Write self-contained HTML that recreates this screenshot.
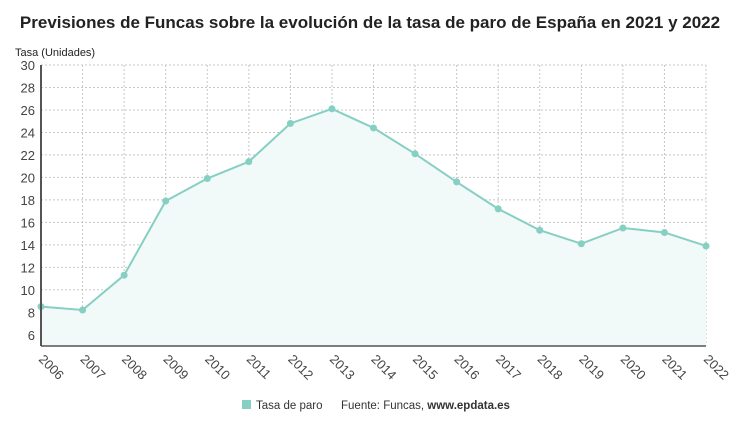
<!DOCTYPE html>
<html><head><meta charset="utf-8"><style>
body{margin:0;background:#fff;width:741px;height:421px;overflow:hidden;font-family:"Liberation Sans",sans-serif}
</style></head><body>
<svg width="741" height="421" xmlns="http://www.w3.org/2000/svg">
<text x="370" y="28" text-anchor="middle" font-size="17" font-weight="bold" fill="#222">Previsiones de Funcas sobre la evolución de la tasa de paro de España en 2021 y 2022</text>
<text x="15" y="56" font-size="11" fill="#222">Tasa (Unidades)</text>
<g id="grid"></g><g id="plot"></g><g id="axes"></g>
<g>
<rect x="242" y="400" width="9" height="9" fill="#86cfc3"/>
<text x="256" y="409" font-size="11.5" fill="#333">Tasa de paro</text>
<text x="341" y="409" font-size="11.5" fill="#333">Fuente: Funcas, <tspan font-weight="bold">www.epdata.es</tspan></text>
</g>
</svg>
<script>
const years=[2006,2007,2008,2009,2010,2011,2012,2013,2014,2015,2016,2017,2018,2019,2020,2021,2022];
const rates=[8.5,8.2,11.3,17.9,19.9,21.4,24.8,26.1,24.4,22.1,19.6,17.2,15.3,14.1,15.5,15.1,13.9];
const yTicks=[6,8,10,12,14,16,18,20,22,24,26,28,30];
const NS="http://www.w3.org/2000/svg";
const x0=41,x1=706,yMin=5,yMax=30,yb=346,yt=65;
const xs=i=>x0+(x1-x0)*i/(years.length-1);
const ys=v=>yb-(v-yMin)*(yb-yt)/(yMax-yMin);
function mk(tag,attrs,parent){const e=document.createElementNS(NS,tag);for(const k in attrs)e.setAttribute(k,attrs[k]);document.getElementById(parent).appendChild(e);return e;}
yTicks.forEach(t=>{
 const l=mk('line',{x1:x0,x2:x1,y1:ys(t),y2:ys(t),stroke:'#c8c8c8','stroke-dasharray':'2,2'},'grid');
 
 
 const tx=mk('text',{x:x0-6,y:ys(t)+5,'text-anchor':'end','font-size':'13',fill:'#444'},'axes');
 tx.textContent=t;
 
 
});
years.forEach((yr,i)=>{
 const l=mk('line',{x1:xs(i),x2:xs(i),y1:yt,y2:yb,stroke:'#c8c8c8','stroke-dasharray':'2,2'},'grid');
 
 
 const tx=mk('text',{x:xs(i)-3,y:yb+14,'font-size':'13',fill:'#444',transform:`rotate(45 ${xs(i)-3} ${yb+14})`},'axes');
 tx.textContent=yr;
 
 
});
let pts=rates.map((v,i)=>xs(i)+','+ys(v)).join(' ');
const area=mk('polygon',{points:`${x0},${yb} ${pts} ${x1},${yb}`,fill:'#f1f9f9'},'plot');


const line=mk('polyline',{points:pts,fill:'none',stroke:'#86cfc3','stroke-width':2},'plot');


rates.forEach((v,i)=>{
 const c=mk('circle',{cx:xs(i),cy:ys(v),r:3.5,fill:'#86cfc3'},'plot');
 
 
});
const ax=mk('line',{x1:x0,x2:x0,y1:yt,y2:yb,stroke:'#555','stroke-width':2},'axes');


const bx=mk('line',{x1:x0,x2:x1,y1:yb,y2:yb,stroke:'#555','stroke-width':1.5},'axes');


</script>
</body></html>
